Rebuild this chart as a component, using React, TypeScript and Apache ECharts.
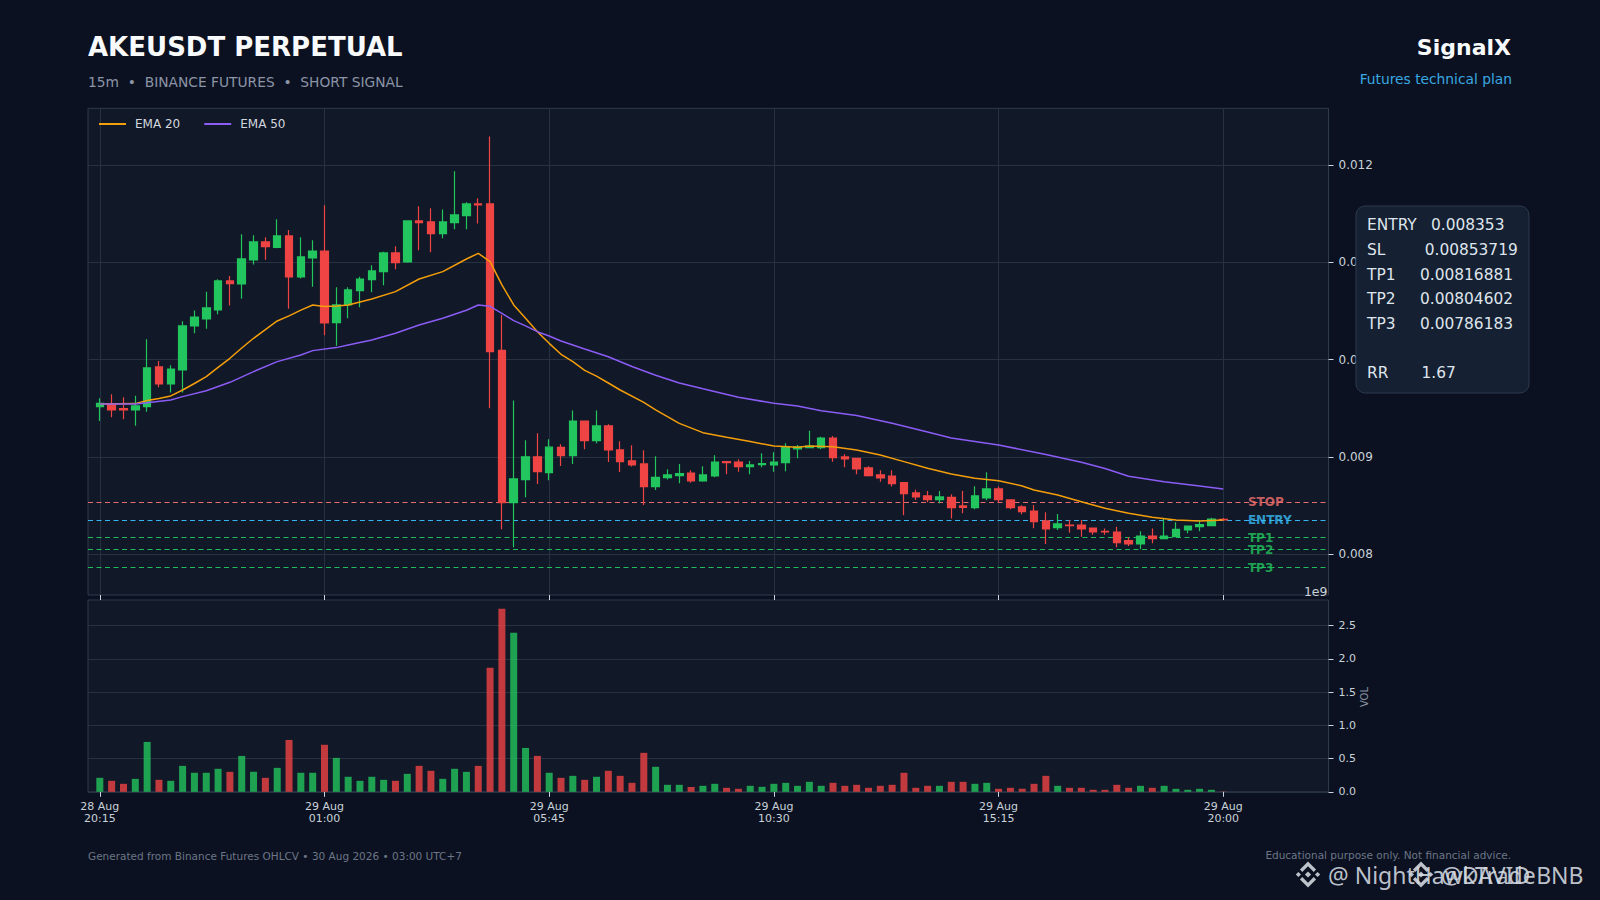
import React, { useEffect, useRef } from "react";
import * as echarts from "echarts";

const FONT = "DejaVu Sans";
const BG = "#0b1120";
const PLOT_BG = "#111827";
const GRID_LINE = "#263142";
const BORDER = "#2f3b4d";
const AXIS_TEXT = "#c9d1d9";
const UP = "#22c55e";
const DOWN = "#ef4444";

// prices are stored in units of 1e-6 USDT
const PRICE_UNIT = 1e-6;

const OPEN = [
  9517, 9544, 9496, 9482, 9517, 9925, 9750, 9894, 10347, 10419,
  10511, 10810, 10779, 11026, 11211, 11156, 11273, 10851, 11046, 11118,
  10381, 10563, 10710, 10823, 10906, 11098, 11005, 11427, 11417, 11297,
  11410, 11482, 11602, 11602, 10096, 8529, 8766, 9000, 8838, 9098,
  9013, 9369, 9167, 9318, 9071, 8958, 8927, 8694, 8786, 8807,
  8834, 8752, 8803, 8951, 8947, 8900, 8920, 8917, 8941, 9081,
  9095, 9095, 9194, 8999, 8985, 8886, 8814, 8803, 8735, 8629,
  8598, 8560, 8584, 8495, 8478, 8577, 8670, 8557, 8485, 8443,
  8341, 8272, 8299, 8299, 8268, 8234, 8227, 8138, 8104, 8186,
  8159, 8179, 8248, 8282, 8293, 8358,
];
const CLOSE = [
  9551, 9482, 9482, 9524, 9915, 9750, 9904, 10347, 10439, 10532,
  10810, 10782, 11036, 11211, 11163, 11273, 10851, 11057, 11118, 10378,
  10563, 10717, 10830, 10913, 11098, 10998, 11427, 11410, 11297, 11417,
  11489, 11602, 11592, 10083, 8529, 8773, 9000, 8848, 9100, 9013,
  9369, 9167, 9318, 9071, 8951, 8917, 8694, 8790, 8814, 8827,
  8752, 8814, 8947, 8941, 8900, 8917, 8930, 8947, 9095, 9102,
  9112, 9194, 8992, 8978, 8876, 8807, 8783, 8725, 8622, 8588,
  8560, 8588, 8478, 8481, 8598, 8670, 8560, 8478, 8437, 8334,
  8258, 8310, 8293, 8258, 8227, 8227, 8118, 8104, 8186, 8159,
  8186, 8255, 8289, 8303, 8361, 8351,
];
const LOW = [
  9370, 9407, 9386, 9320, 9465, 9716, 9661, 9661, 10271, 10319,
  10467, 10556, 10628, 10978, 11029, 11146, 10525, 10834, 10751, 10251,
  10144, 10426, 10539, 10693, 10765, 10930, 10998, 11125, 11105, 11249,
  11341, 11341, 11400, 9500, 8255, 8070, 8584, 8721, 8759, 8906,
  8927, 9078, 9140, 8948, 8845, 8900, 8505, 8660, 8766, 8728,
  8735, 8745, 8790, 8821, 8848, 8821, 8893, 8848, 8852, 8985,
  9090, 9078, 8951, 8893, 8821, 8797, 8745, 8694, 8399, 8557,
  8533, 8522, 8365, 8419, 8461, 8553, 8533, 8461, 8409, 8265,
  8104, 8248, 8220, 8179, 8200, 8200, 8070, 8083, 8049, 8111,
  8155, 8175, 8214, 8234, 8290, 8344,
];
const HIGH = [
  9603, 9644, 9613, 9630, 10210, 9987, 9942, 10395, 10505, 10700,
  10827, 10861, 11290, 11280, 11259, 11444, 11334, 11259, 11228, 11588,
  10745, 10745, 10854, 10971, 11111, 11166, 11427, 11578, 11557, 11544,
  11938, 11619, 11660, 12295, 10460, 9579, 9170, 9242, 9181, 9129,
  9476, 9369, 9476, 9335, 9160, 9119, 9068, 9006, 8872, 8927,
  8862, 8903, 9016, 8955, 8975, 8958, 9037, 9047, 9140, 9122,
  9270, 9208, 9215, 9026, 8990, 8903, 8862, 8862, 8740, 8663,
  8649, 8649, 8615, 8649, 8697, 8841, 8694, 8560, 8502, 8505,
  8430, 8412, 8351, 8351, 8272, 8262, 8282, 8172, 8234, 8262,
  8365, 8327, 8292, 8351, 8375, 8371,
];
// volume in units of 1e9
const VOLUME_E9 = [
  0.21, 0.165, 0.12, 0.195, 0.75, 0.18, 0.165, 0.39, 0.286, 0.286,
  0.346, 0.3, 0.54, 0.3, 0.21, 0.36, 0.78, 0.286, 0.286, 0.707,
  0.51, 0.226, 0.165, 0.226, 0.18, 0.165, 0.27, 0.39, 0.316, 0.195,
  0.346, 0.3, 0.39, 1.865, 2.752, 2.39, 0.66, 0.54, 0.286, 0.21,
  0.24, 0.18, 0.226, 0.316, 0.24, 0.135, 0.586, 0.376, 0.105, 0.105,
  0.072, 0.09, 0.12, 0.06, 0.045, 0.09, 0.075, 0.12, 0.135, 0.09,
  0.15, 0.09, 0.135, 0.09, 0.105, 0.06, 0.09, 0.105, 0.286, 0.06,
  0.09, 0.09, 0.15, 0.15, 0.12, 0.135, 0.045, 0.06, 0.045, 0.12,
  0.24, 0.09, 0.06, 0.06, 0.03, 0.03, 0.105, 0.06, 0.09, 0.06,
  0.09, 0.045, 0.03, 0.045, 0.03, 0.004,
];
// EMA values: [candle index, price x1e6]
const EMA20_PTS = [
  [0, 9544], [3, 9548], [4, 9580], [5, 9600], [6, 9627], [7, 9688], [8, 9755], [9, 9826],
  [10, 9920], [11, 10014], [12, 10120], [13, 10220], [14, 10310], [15, 10398], [16, 10450],
  [17, 10510], [18, 10563], [19, 10546], [20, 10553], [21, 10563], [23, 10625], [25, 10700],
  [27, 10830], [29, 10906], [31, 11036], [32, 11094], [33, 11009], [34, 10769], [35, 10563],
  [36, 10426], [37, 10288], [38, 10168], [39, 10055], [40, 9980], [41, 9890], [42, 9830],
  [43, 9760], [44, 9688], [46, 9560], [47, 9483], [49, 9345], [51, 9249], [53, 9201],
  [55, 9157], [57, 9112], [59, 9098], [60, 9112], [62, 9105], [64, 9071], [66, 9020],
  [68, 8951], [70, 8882], [72, 8824], [74, 8779], [76, 8755], [78, 8701], [79, 8660],
  [81, 8608], [83, 8539], [85, 8471], [87, 8419], [89, 8378], [91, 8351], [93, 8341], [95, 8351],
];
const EMA50_PTS = [
  [0, 9544], [3, 9544], [4, 9558], [6, 9585], [7, 9620], [9, 9681], [11, 9767], [13, 9877],
  [15, 9980], [17, 10048], [18, 10093], [20, 10124], [21, 10151], [23, 10203], [25, 10271],
  [27, 10357], [29, 10426], [31, 10508], [32, 10563], [33, 10549], [34, 10477], [35, 10402],
  [36, 10347], [37, 10288], [38, 10244], [39, 10192], [41, 10110], [43, 10030], [45, 9930],
  [47, 9840], [49, 9760], [51, 9700], [54, 9613], [57, 9551], [59, 9524], [61, 9475],
  [64, 9425], [67, 9345], [70, 9255], [72, 9195], [76, 9122], [80, 9025], [83, 8945],
  [85, 8880], [87, 8800], [90, 8745], [93, 8701], [95, 8670],
];

const TICK_IDX = [0, 19, 38, 57, 76, 95];
const TICK_LABELS = [
  "28 Aug\n20:15",
  "29 Aug\n01:00",
  "29 Aug\n05:45",
  "29 Aug\n10:30",
  "29 Aug\n15:15",
  "29 Aug\n20:00",
];
const PRICE_TICKS = [0.008, 0.009, 0.01, 0.011, 0.012];
const VOL_TICKS = [0, 0.5, 1.0, 1.5, 2.0, 2.5];

const LEVEL_NAMES = ["STOP", "ENTRY", "TP1", "TP2", "TP3"];
const LEVEL_VALUES = [0.00853719, 0.008353, 0.00816881, 0.00804602, 0.00786183];
const LEVEL_COLORS = ["#f87171", "#38bdf8", "#22c55e", "#22c55e", "#22c55e"];
const LEVEL_LABEL_X = 97;

const INFO_LABELS = ["ENTRY", "SL", "TP1", "TP2", "TP3", "RR"];
const INFO_VALUES = ["0.008353", "0.00853719", "0.00816881", "0.00804602", "0.00786183", "1.67"];

const WATERMARKS = ["@ NightHawkTrade", "@DAVID BNB"];

function diamond(cx: number, cy: number, r: number) {
  return [
    [cx, cy - r],
    [cx + r, cy],
    [cx, cy + r],
    [cx - r, cy],
  ];
}

function chevron(cx: number, cy: number, s: number, dir: number) {
  // dir = -1 for the top chevron, +1 for the bottom one
  const p = (x: number, y: number) => [cx + x * s, cy + dir * y * s];
  return [p(-0.31, 0.19), p(0, 0.5), p(0.31, 0.19), p(0.22, 0.1), p(0, 0.32), p(-0.22, 0.1)];
}

function logo(cx: number, cy: number, s: number, fill: string) {
  return {
    type: "group",
    z: 120,
    children: [
      { type: "polygon", z: 120, shape: { points: diamond(cx, cy, s * 0.12) }, style: { fill } },
      { type: "polygon", z: 120, shape: { points: chevron(cx, cy, s, -1) }, style: { fill } },
      { type: "polygon", z: 120, shape: { points: chevron(cx, cy, s, 1) }, style: { fill } },
      { type: "polygon", z: 120, shape: { points: diamond(cx - s * 0.37, cy, s * 0.1) }, style: { fill } },
      { type: "polygon", z: 120, shape: { points: diamond(cx + s * 0.37, cy, s * 0.1) }, style: { fill } },
    ],
  };
}

function text(x: number, y: number, t: string, size: number, fill: string, extra: any = {}) {
  return {
    type: "text",
    x,
    y,
    z: 110,
    style: {
      text: t,
      fontSize: size,
      fontFamily: FONT,
      fill,
      align: "left",
      verticalAlign: "middle",
      ...extra,
    },
  };
}

function buildOption() {
  const candleData = OPEN.map((o, i) => [
    i,
    o * PRICE_UNIT,
    CLOSE[i] * PRICE_UNIT,
    LOW[i] * PRICE_UNIT,
    HIGH[i] * PRICE_UNIT,
  ]);
  const volData = VOLUME_E9.map((v, i) => ({
    value: [i, v],
    itemStyle: { color: CLOSE[i] >= OPEN[i] ? UP : DOWN, opacity: 0.8 },
  }));
  const ema20 = EMA20_PTS.map(([i, v]) => [i, v * PRICE_UNIT]);
  const ema50 = EMA50_PTS.map(([i, v]) => [i, v * PRICE_UNIT]);

  const gridLeft = 88;
  const gridWidth = 1240.5;

  const infoRowsY = [224.6, 249.6, 274.6, 299.2, 323.8, 373];
  const infoValueX = [1431, 1424.7, 1420, 1420, 1420, 1421.5];
  const wmFill = "rgba(214,219,226,0.88)";

  const graphic: any[] = [
    text(88, 47, "AKEUSDT PERPETUAL", 26, "#f8fafc", { fontWeight: "bold" }),
    text(88, 82, "15m\u00a0\u00a0•\u00a0\u00a0BINANCE FUTURES\u00a0\u00a0•\u00a0\u00a0SHORT SIGNAL", 13.8, "#8b95a7"),
    text(1511, 47, "SignalX", 22, "#f8fafc", { fontWeight: "bold", align: "right" }),
    text(1512, 78.6, "Futures technical plan", 13.8, "#3aa8e0", { align: "right" }),
    {
      type: "rect",
      z: 100,
      shape: { x: 1356, y: 206, width: 173, height: 187, r: 9 },
      style: { fill: "#152032", stroke: "#2c3a4e", lineWidth: 1 },
    },
    ...INFO_LABELS.map((l, k) => text(1367, infoRowsY[k], l, 15.4, "#dfe5ec")),
    ...INFO_VALUES.map((v, k) => text(infoValueX[k], infoRowsY[k], v, 15.4, "#dfe5ec")),
    text(1327.5, 591, "1e9", 12.5, AXIS_TEXT, { align: "right" }),
    {
      type: "text",
      x: 1364,
      y: 697,
      rotation: Math.PI / 2,
      z: 110,
      style: {
        text: "VOL",
        fontSize: 10,
        fontFamily: FONT,
        fill: "#8b95a7",
        align: "center",
        verticalAlign: "middle",
      },
    },
    text(88, 856, "Generated from Binance Futures OHLCV • 30 Aug 2026 • 03:00 UTC+7", 10.5, "#6b7687"),
    text(1511, 855, "Educational purpose only. Not financial advice.", 10.5, "#6b7687", { align: "right" }),
    logo(1308, 874.5, 26, wmFill),
    text(1328, 874.5, WATERMARKS[0], 23, wmFill, { fontFamily: "Noto Sans" }),
    logo(1421, 874.5, 26, wmFill),
    text(1441, 874.5, WATERMARKS[1], 23, wmFill, { fontFamily: "Noto Sans" }),
  ];

  return {
    animation: false,
    backgroundColor: BG,
    textStyle: { fontFamily: FONT },
    legend: {
      data: ["EMA 20", "EMA 50"],
      left: 94,
      top: 113,
      icon: "rect",
      itemWidth: 27,
      itemHeight: 2,
      itemGap: 24,
      textStyle: { color: "#d1d7df", fontSize: 12, fontFamily: FONT, padding: [0, 0, 0, 4] },
    },
    grid: [
      {
        left: gridLeft,
        top: 108.3,
        width: gridWidth,
        height: 486.7,
        show: true,
        backgroundColor: PLOT_BG,
        borderColor: BORDER,
        borderWidth: 1,
      },
      {
        left: gridLeft,
        top: 600,
        width: gridWidth,
        height: 191.8,
        show: true,
        backgroundColor: PLOT_BG,
        borderColor: BORDER,
        borderWidth: 1,
      },
    ],
    xAxis: [
      {
        type: "value",
        gridIndex: 0,
        min: -1.0,
        max: 103.9,
        axisLine: { show: false, onZero: false },
        axisTick: {
          show: true,
          customValues: TICK_IDX,
          length: 5,
          lineStyle: { color: "#cbd5e1", width: 1 },
        },
        axisLabel: { show: false, customValues: TICK_IDX },
        splitLine: { show: true, lineStyle: { color: GRID_LINE, width: 1 } },
      },
      {
        type: "value",
        gridIndex: 1,
        min: -1.0,
        max: 103.9,
        axisLine: { show: false, onZero: false },
        axisTick: {
          show: true,
          customValues: TICK_IDX,
          length: 5,
          lineStyle: { color: "#cbd5e1", width: 1 },
        },
        axisLabel: {
          show: true,
          customValues: TICK_IDX,
          color: AXIS_TEXT,
          fontSize: 11,
          lineHeight: 12.5,
          margin: 8,
          fontFamily: FONT,
          formatter: (v: number) => {
            const k = TICK_IDX.indexOf(Math.round(v));
            return k >= 0 ? TICK_LABELS[k] : "";
          },
        },
        splitLine: { show: false },
      },
    ],
    yAxis: [
      {
        type: "value",
        gridIndex: 0,
        position: "right",
        min: 0.007579,
        max: 0.012586,
        axisLine: { show: false, onZero: false },
        axisTick: {
          show: true,
          customValues: PRICE_TICKS,
          length: 5,
          lineStyle: { color: "#cbd5e1" },
        },
        axisLabel: {
          show: true,
          customValues: PRICE_TICKS,
          color: AXIS_TEXT,
          fontSize: 12,
          margin: 10,
          fontFamily: FONT,
          formatter: (v: number) => v.toFixed(3),
        },
        splitLine: { show: true, lineStyle: { color: GRID_LINE, width: 1 } },
      },
      {
        type: "value",
        gridIndex: 1,
        position: "right",
        min: 0,
        max: 2.884,
        axisLine: { show: false, onZero: false },
        axisTick: {
          show: true,
          customValues: VOL_TICKS,
          length: 5,
          lineStyle: { color: "#cbd5e1" },
        },
        axisLabel: {
          show: true,
          customValues: VOL_TICKS,
          color: AXIS_TEXT,
          fontSize: 11,
          margin: 10,
          fontFamily: FONT,
          formatter: (v: number) => v.toFixed(1),
        },
        splitLine: { show: true, lineStyle: { color: GRID_LINE, width: 1 } },
      },
    ],
    series: [
      {
        name: "OHLC",
        type: "candlestick",
        xAxisIndex: 0,
        yAxisIndex: 0,
        data: candleData,
        encode: { x: 0, y: [1, 2, 3, 4] },
        barWidth: 8,
        itemStyle: {
          color: UP,
          color0: DOWN,
          borderColor: UP,
          borderColor0: DOWN,
          borderWidth: 1.2,
        },
        z: 3,
      },
      {
        name: "EMA 20",
        type: "line",
        xAxisIndex: 0,
        yAxisIndex: 0,
        data: ema20,
        showSymbol: false,
        symbol: "none",
        color: "#f59e0b",
        lineStyle: { color: "#f59e0b", width: 1.5 },
        z: 4,
        markLine: {
          silent: true,
          precision: 10,
          z: 2,
          symbol: ["none", "none"],
          label: { show: false },
          data: LEVEL_VALUES.map((v, k) => ({
            yAxis: v,
            lineStyle: { color: LEVEL_COLORS[k], type: [5, 3.5], width: 1.2, opacity: 0.95 },
          })),
        },
      },
      {
        name: "EMA 50",
        type: "line",
        xAxisIndex: 0,
        yAxisIndex: 0,
        data: ema50,
        showSymbol: false,
        symbol: "none",
        color: "#8b5cf6",
        lineStyle: { color: "#8b5cf6", width: 1.5 },
        z: 4,
      },
      {
        name: "Levels",
        type: "scatter",
        xAxisIndex: 0,
        yAxisIndex: 0,
        symbolSize: 1,
        itemStyle: { color: "transparent" },
        silent: true,
        z: 10,
        data: LEVEL_VALUES.map((v, k) => ({
          value: [LEVEL_LABEL_X, v],
          name: LEVEL_NAMES[k],
          label: {
            show: true,
            position: "right",
            distance: 0.5,
            formatter: LEVEL_NAMES[k],
            color: LEVEL_COLORS[k],
            fontSize: 12,
            fontWeight: "bold",
            fontFamily: FONT,
          },
        })),
      },
      {
        name: "Volume",
        type: "bar",
        xAxisIndex: 1,
        yAxisIndex: 1,
        barWidth: 7,
        data: volData,
      },
    ],
    graphic,
  };
}

export default function App() {
  const ref = useRef<HTMLDivElement>(null);
  useEffect(() => {
    if (!ref.current) return;
    const chart = echarts.init(ref.current, null, { renderer: "svg", width: 1600, height: 900 });
    chart.setOption(buildOption() as any);
    return () => chart.dispose();
  }, []);
  return (
    <div
      ref={ref}
      style={{ position: "fixed", left: 0, top: 0, width: 1600, height: 900, background: BG }}
    />
  );
}
